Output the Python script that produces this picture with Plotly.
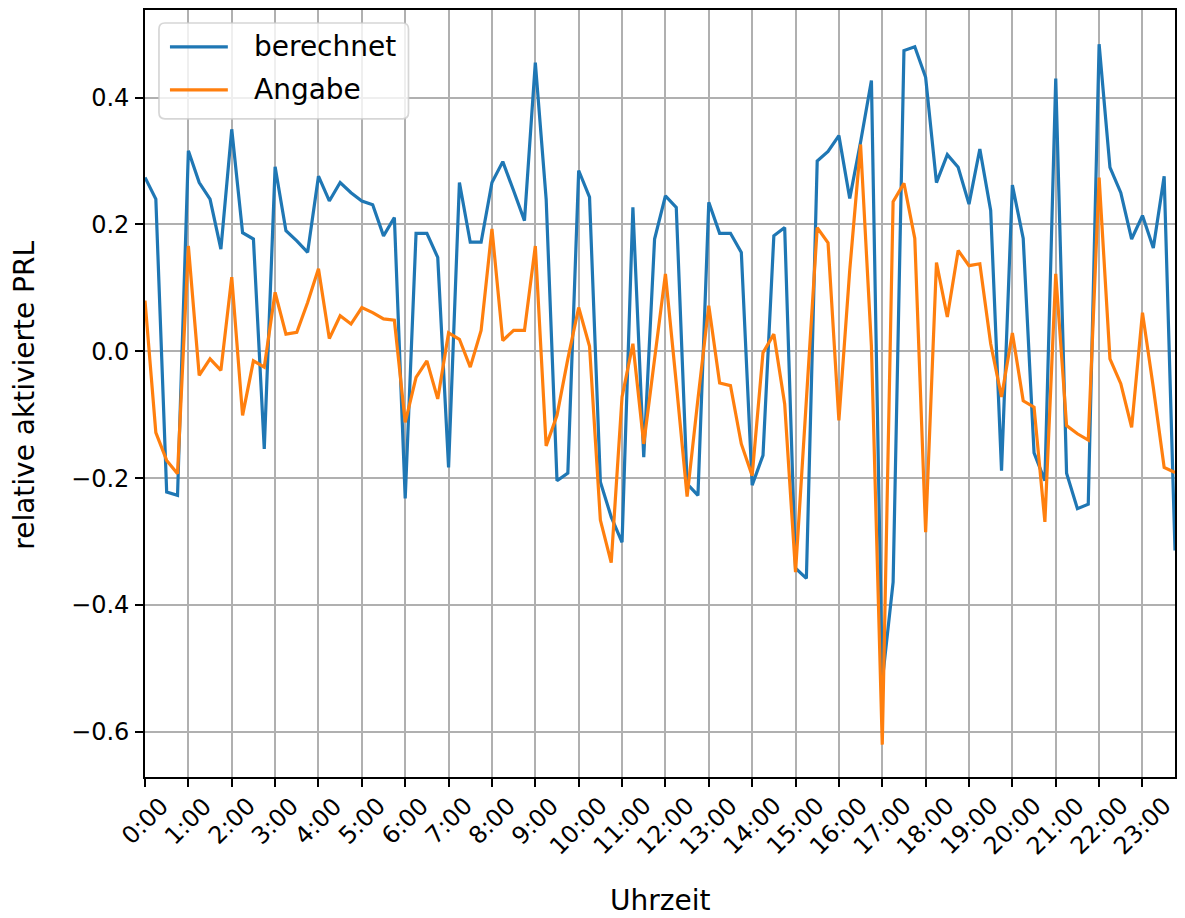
import plotly.graph_objects as go

# 15-minute resolution over one day (96 samples)
n_samples = 96
hours = [i * 0.25 for i in range(n_samples)]

berechnet = [
    0.274, 0.240, -0.222, -0.227, 0.316, 0.266, 0.240, 0.161,
    0.350, 0.187, 0.177, -0.154, 0.291, 0.190, 0.174, 0.156,
    0.276, 0.237, 0.266, 0.250, 0.237, 0.231, 0.182, 0.211,
    -0.232, 0.186, 0.186, 0.148, -0.183, 0.266, 0.172, 0.172,
    0.266, 0.299, 0.253, 0.206, 0.455, 0.240, -0.204, -0.192,
    0.285, 0.243, -0.206, -0.261, -0.301, 0.227, -0.167, 0.177,
    0.245, 0.227, -0.209, -0.227, 0.235, 0.186, 0.186, 0.156,
    -0.211, -0.164, 0.182, 0.195, -0.342, -0.358, 0.300, 0.315,
    0.340, 0.241, 0.330, 0.427, -0.520, -0.364, 0.474, 0.480,
    0.432, 0.266, 0.310, 0.290, 0.232, 0.319, 0.222, -0.188,
    0.262, 0.178, -0.160, -0.204, 0.430, -0.192, -0.248, -0.241,
    0.484, 0.290, 0.250, 0.177, 0.214, 0.163, 0.276, -0.314,
]

angabe = [
    0.080, -0.128, -0.172, -0.193, 0.166, -0.038, -0.012, -0.030,
    0.117, -0.101, -0.015, -0.025, 0.093, 0.027, 0.030, 0.077,
    0.130, 0.020, 0.056, 0.043, 0.069, 0.061, 0.051, 0.049,
    -0.112, -0.041, -0.015, -0.075, 0.029, 0.019, -0.025, 0.033,
    0.193, 0.017, 0.033, 0.033, 0.166, -0.149, -0.101, -0.012,
    0.069, 0.008, -0.266, -0.333, -0.072, 0.012, -0.146, -0.010,
    0.122, -0.050, -0.229, -0.075, 0.072, -0.050, -0.054, -0.146,
    -0.196, -0.002, 0.027, -0.083, -0.348, -0.077, 0.195, 0.171,
    -0.109, 0.128, 0.326, 0.008, -0.620, 0.236, 0.265, 0.178,
    -0.285, 0.140, 0.054, 0.159, 0.135, 0.138, 0.012, -0.072,
    0.029, -0.078, -0.088, -0.269, 0.122, -0.117, -0.130, -0.140,
    0.274, -0.012, -0.051, -0.120, 0.061, -0.057, -0.183, -0.191,
]

x_tick_hours = list(range(24))
x_tick_labels = [f"{h}:00" for h in x_tick_hours]
y_tick_vals = [-0.6, -0.4, -0.2, 0.0, 0.2, 0.4]
y_tick_labels = ["\u22120.6", "\u22120.4", "\u22120.2", "0.0", "0.2", "0.4"]

series_names = ["berechnet", "Angabe"]
series_colors = ["#1f77b4", "#ff7f0e"]

FONT = "DejaVu Sans"
TICK_SIZE = 24
LABEL_SIZE = 28
W, H = 1185, 918
M_L, M_R, M_T, M_B = 145, 8, 9, 141
PW, PH = W - M_L - M_R, H - M_T - M_B


def px_x(px):
    return (px - M_L) / PW


def px_y(py):
    return (H - M_B - py) / PH


fig = go.Figure()
for name, ys, col in zip(series_names, [berechnet, angabe], series_colors):
    fig.add_trace(go.Scatter(
        x=hours, y=ys, mode="lines", name=name,
        line=dict(color=col, width=3.2), showlegend=False,
    ))

axis_common = dict(
    showgrid=True, gridcolor="#b0b0b0", gridwidth=1.7,
    showline=True, linecolor="black", linewidth=1.7, mirror=True,
    ticks="outside", ticklen=8, tickwidth=1.7, tickcolor="black",
    zeroline=False,
)

fig.update_xaxes(
    range=[0, hours[-1]], tickmode="array", tickvals=x_tick_hours,
    showticklabels=False, **axis_common,
)
fig.update_yaxes(
    range=[-0.671, 0.538], tickmode="array", tickvals=y_tick_vals,
    ticktext=y_tick_labels,
    tickfont=dict(family=FONT, size=TICK_SIZE, color="black"),
    ticklabelstandoff=1, **axis_common,
)

annotations = []
# rotated hour labels, centred below each tick
for h, lab in zip(x_tick_hours, x_tick_labels):
    annotations.append(dict(
        x=h, y=0, xref="x", yref="paper", text=lab, showarrow=False,
        textangle=-45, xanchor="center", yanchor="top", yshift=-12,
        font=dict(family=FONT, size=TICK_SIZE, color="black"),
    ))

annotations.append(dict(
    x=0.5, y=px_y(901), xref="paper", yref="paper", text="Uhrzeit",
    showarrow=False, xanchor="center", yanchor="middle",
    font=dict(family=FONT, size=LABEL_SIZE, color="black"),
))
annotations.append(dict(
    x=px_x(24), y=px_y(395), xref="paper", yref="paper",
    text="relative aktivierte PRL", showarrow=False, textangle=-90,
    xanchor="center", yanchor="middle",
    font=dict(family=FONT, size=LABEL_SIZE, color="black"),
))

# legend box
bx0, bx1, by0, by1 = 159, 409, 22, 118
r = 6
rx, ry = r / PW, r / PH
X0, X1, Y0, Y1 = px_x(bx0), px_x(bx1), px_y(by1), px_y(by0)
path = (
    f"M {X0 + rx} {Y0} L {X1 - rx} {Y0} Q {X1} {Y0} {X1} {Y0 + ry} "
    f"L {X1} {Y1 - ry} Q {X1} {Y1} {X1 - rx} {Y1} "
    f"L {X0 + rx} {Y1} Q {X0} {Y1} {X0} {Y1 - ry} "
    f"L {X0} {Y0 + ry} Q {X0} {Y0} {X0 + rx} {Y0} Z"
)
shapes = [dict(
    type="path", xref="paper", yref="paper", path=path,
    fillcolor="rgba(255,255,255,0.8)",
    line=dict(color="rgba(204,204,204,0.8)", width=1.7), layer="above",
)]
for k, (name, col) in enumerate(zip(series_names, series_colors)):
    yy = 46 + k * 43
    shapes.append(dict(
        type="line", xref="paper", yref="paper",
        x0=px_x(170), x1=px_x(228), y0=px_y(yy), y1=px_y(yy),
        line=dict(color=col, width=3.2), layer="above",
    ))
    annotations.append(dict(
        x=px_x(252), y=px_y(yy), xref="paper", yref="paper", text=name,
        showarrow=False, xanchor="left", yanchor="middle",
        font=dict(family=FONT, size=LABEL_SIZE, color="black"),
    ))

fig.update_layout(
    width=W, height=H,
    margin=dict(l=M_L, r=M_R, t=M_T, b=M_B),
    paper_bgcolor="white", plot_bgcolor="white",
    annotations=annotations, shapes=shapes,
    font=dict(family=FONT, color="black"),
)

fig.write_html("out.html")
